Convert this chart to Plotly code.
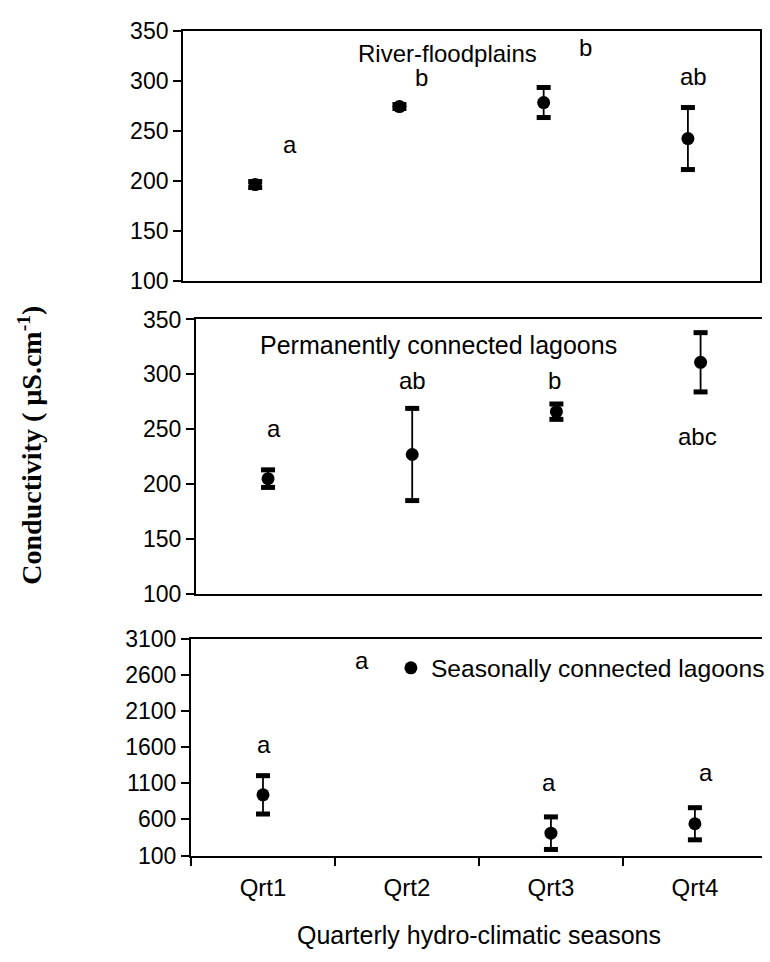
import plotly.graph_objects as go

# ---------------- data ----------------
categories = ["Qrt1", "Qrt2", "Qrt3", "Qrt4"]

river_mean = [196, 274, 278, 242]
river_err = [3, 2, 15, 31]

perm_mean = [205, 227, 266, 311]
perm_err = [8, 42, 7, 27]

seas_mean = [940, None, 410, 540]
seas_err = [265, None, 225, 222]

river_letters = ["a", "b", "b", "ab"]
river_letter_x = [0.24, 1.15, 2.29, 3.04]
river_letter_y = [236, 303, 333, 304]

perm_letters = ["a", "ab", "b", "abc"]
perm_letter_x = [0.04, 1.0, 1.99, 2.98]
perm_letter_y = [251, 294, 294, 243]

seas_letters = ["a", "a", "a", "a"]
seas_letter_x = [0.01, 0.69, 1.99, 3.08]
seas_letter_y = [1630, 2800, 1110, 1245]

panel_titles = ["River-floodplains", "Permanently connected lagoons"]
series_name = "Seasonally connected lagoons"
y_ticks_small = [100, 150, 200, 250, 300, 350]
y_ticks_big = [100, 600, 1100, 1600, 2100, 2600, 3100]

W, H = 770, 962
FONT = "Liberation Sans, Arial, sans-serif"

fig = go.Figure()


def px_x(p):
    return p / W


def px_y(p):
    return 1 - p / H


panels = [
    ("", river_mean, river_err, (185, 768), (18, 275), [-0.5, 3.5], [100, 350], y_ticks_small, False),
    ("2", perm_mean, perm_err, (198, 770), (315, 597), [-0.5, 3.426], [100, 350], y_ticks_small, False),
    ("3", seas_mean, seas_err, (193, 770), (643, 866), [-0.5, 3.466], [100, 3100], y_ticks_big, True),
]

for i, (sfx, mean, err, xd, yd, xr, yr, yt, is_bottom) in enumerate(panels):
    xa = "x" + sfx
    ya = "y" + sfx
    fig.add_trace(go.Scatter(
        x=categories, y=mean, mode="markers",
        marker=dict(symbol="circle", size=13, color="black"),
        error_y=dict(type="data", array=err, visible=True, color="black",
                     thickness=1.8, width=0),
        xaxis=xa, yaxis=ya,
        name=series_name if is_bottom else panel_titles[i],
        showlegend=is_bottom, cliponaxis=False,
    ))
    caps_hi = [m + e if m is not None else None for m, e in zip(mean, err)]
    caps_lo = [m - e if m is not None else None for m, e in zip(mean, err)]
    fig.add_trace(go.Scatter(
        x=categories + categories, y=caps_hi + caps_lo, mode="markers",
        marker=dict(symbol="line-ew", size=10, line=dict(width=5, color="black")),
        xaxis=xa, yaxis=ya, showlegend=False, hoverinfo="skip", cliponaxis=False,
    ))

    xkey = "xaxis" + sfx
    ykey = "yaxis" + sfx
    fig.update_layout(**{
        xkey: dict(
            domain=[px_x(xd[0]), px_x(xd[1])], range=xr, type="category",
            categoryorder="array", categoryarray=categories,
            anchor=ya, showline=True, linecolor="black", linewidth=2,
            mirror=True, showgrid=False, zeroline=False,
            ticks="outside" if is_bottom else "", ticklen=8, tickwidth=2,
            tickcolor="black", tickson="boundaries",
            showticklabels=is_bottom, ticklabelstandoff=10,
            tickfont=dict(family=FONT, size=24, color="black"),
        ),
        ykey: dict(
            domain=[px_y(yd[1]), px_y(yd[0])], range=yr, anchor=xa,
            tickvals=yt, ticks="outside", ticklen=8, tickwidth=2,
            tickcolor="black", showline=True, linecolor="black", linewidth=2,
            mirror=(i == 0), showgrid=False, zeroline=False,
            tickfont=dict(family=FONT, size=23, color="black"),
        ),
    })

annotations = []


def add_letters(letters, xs, ys, sfx):
    for t, x, y in zip(letters, xs, ys):
        annotations.append(dict(
            text=t, x=x, y=y, xref="x" + sfx, yref="y" + sfx, showarrow=False,
            xanchor="center", yanchor="middle",
            font=dict(family=FONT, size=24, color="black"),
        ))


add_letters(river_letters, river_letter_x, river_letter_y, "")
add_letters(perm_letters, perm_letter_x, perm_letter_y, "2")
add_letters(seas_letters, seas_letter_x, seas_letter_y, "3")

annotations.append(dict(text=panel_titles[0], x=1.33, y=327, xref="x", yref="y",
                        xanchor="center", yanchor="middle", showarrow=False,
                        font=dict(family=FONT, size=24, color="black")))
annotations.append(dict(text=panel_titles[1], x=1.185, y=327, xref="x2", yref="y2",
                        xanchor="center", yanchor="middle", showarrow=False,
                        font=dict(family=FONT, size=25, color="black")))

annotations.append(dict(text="Quarterly hydro-climatic seasons", x=px_x(484), y=px_y(948),
                        xref="paper", yref="paper", showarrow=False,
                        xanchor="center", yanchor="middle",
                        font=dict(family=FONT, size=25, color="black")))
annotations.append(dict(text="<b>Conductivity ( µS.cm<sup>-1</sup>)</b>", x=px_x(30), y=px_y(444),
                        xref="paper", yref="paper", showarrow=False, textangle=-90,
                        xanchor="center", yanchor="middle",
                        font=dict(family="Liberation Serif, Times New Roman, serif", size=28, color="black")))

fig.update_layout(
    width=W, height=H, margin=dict(l=0, r=0, t=0, b=0),
    paper_bgcolor="white", plot_bgcolor="white",
    annotations=annotations,
    showlegend=True,
    legend=dict(x=px_x(395), y=px_y(673), xanchor="left", yanchor="middle",
                bgcolor="rgba(0,0,0,0)", borderwidth=0,
                font=dict(family=FONT, size=24.6, color="black"),
                itemwidth=30),
)

fig.write_html("out.html")
